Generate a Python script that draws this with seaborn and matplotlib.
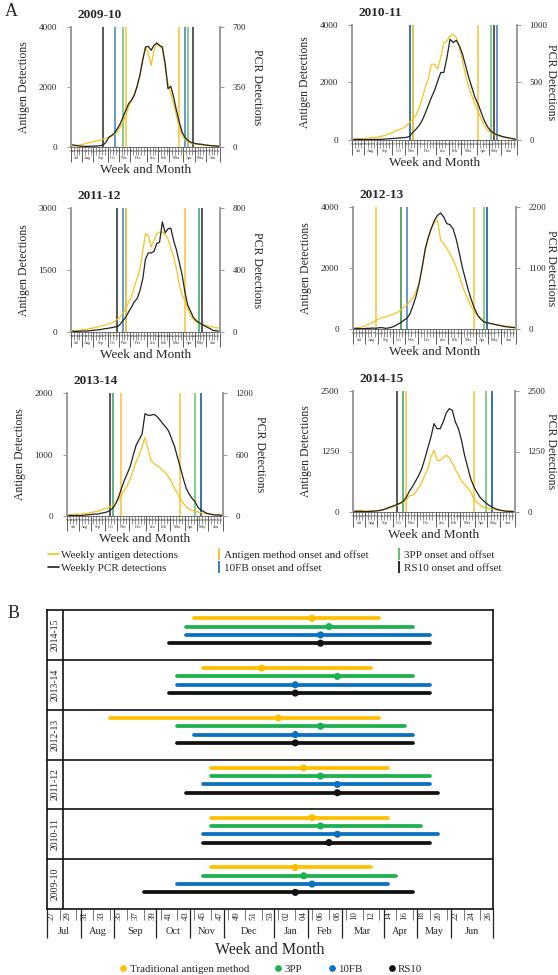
import matplotlib
matplotlib.use("Agg")
import matplotlib.pyplot as plt
import matplotlib.transforms as mtransforms
from matplotlib.lines import Line2D
import numpy as np
import pandas as pd
import seaborn as sns

# ---------------------------------------------------------------- data
week_labels = ["27", "28", "29", "30", "31", "32", "33", "34", "35", "36", "37", "38", "39",
               "40", "41", "42", "43", "44", "45", "46", "47", "48", "49", "50", "51", "52", "53",
               "01", "02", "03", "04", "05", "06", "07", "08", "09", "10", "11", "12", "13",
               "14", "15", "16", "17", "18", "19", "20", "21", "22", "23", "24", "25", "26"]
months = ["Jul", "Aug", "Sep", "Oct", "Nov", "Dec", "Jan", "Feb", "Mar", "Apr", "May", "Jun"]
month_weeks = [4, 4, 5, 4, 4, 6, 4, 4, 5, 4, 4, 5]

seasons = ["2009-10", "2010-11", "2011-12", "2012-13", "2013-14", "2014-15"]

antigen_0910 = [44, 33, 55, 78, 100, 122, 144, 167, 189, 211, 233, 267, 300, 311, 355, 422, 533, 667,
                833, 1055, 1333, 1555, 1778, 2000, 2389, 2944, 3333, 3111, 2722, 3222, 3444, 3355,
                3278, 2667, 2111, 1778, 1444, 1055, 667, 389, 244, 167, 133, 111, 100, 89, 78, 67,
                67, 55, 44, 44, 33]
pcr_0910 = [12, 10, 7, 5, 4, 4, 4, 5, 5, 6, 8, 12, 29, 58, 68, 82, 107, 136, 175, 214, 253, 272,
            301, 354, 418, 505, 583, 587, 564, 593, 607, 593, 583, 486, 340, 354, 292, 214, 146,
            88, 58, 39, 29, 23, 19, 17, 16, 12, 10, 8, 6, 6, 4]

antigen_1011 = [23, 35, 46, 46, 58, 69, 81, 92, 104, 127, 162, 197, 231, 289, 335, 381, 416, 497,
                613, 728, 844, 1110, 1422, 1826, 2115, 2636, 2636, 2462, 2867, 3387, 3445, 3618,
                3676, 3560, 3214, 2751, 2231, 1826, 1537, 1248, 1017, 728, 497, 347, 266, 208, 162,
                127, 104, 81, 58, 46, 35]
pcr_1011 = [5, 5, 5, 4, 4, 4, 5, 5, 5, 6, 8, 10, 12, 14, 16, 18, 20, 23, 32, 66, 92, 124, 168,
            230, 300, 370, 430, 510, 587, 587, 717, 876, 847, 867, 818, 746, 644, 543, 457, 370,
            312, 240, 168, 116, 81, 58, 46, 38, 29, 23, 17, 12, 6]

antigen_1112 = [16, 24, 32, 40, 56, 64, 81, 89, 105, 121, 137, 161, 177, 202, 218, 258, 306, 363,
                460, 564, 725, 846, 1088, 1290, 1531, 1934, 2377, 2337, 2055, 2216, 2377, 2418,
                2418, 2353, 2256, 2015, 1813, 1531, 1169, 887, 766, 580, 403, 306, 242, 209, 185,
                169, 153, 137, 121, 105, 97]
pcr_1112 = [6, 4, 4, 6, 6, 6, 8, 10, 12, 14, 15, 20, 22, 25, 28, 32, 35, 50, 75, 95, 130, 160,
            195, 215, 265, 340, 470, 510, 510, 520, 570, 580, 710, 640, 665, 670, 590, 530, 450,
            370, 260, 175, 135, 95, 75, 60, 50, 40, 30, 22, 10, 8, 6]

antigen_1213 = [22, 33, 55, 87, 131, 164, 218, 283, 338, 371, 392, 436, 458, 501, 545, 632, 719,
                785, 916, 1025, 1243, 1493, 2006, 2583, 2965, 3292, 3510, 3564, 2910, 2801, 2638,
                2474, 2289, 2038, 1766, 1439, 1166, 948, 730, 567, 436, 349, 262, 218, 185, 164,
                142, 120, 109, 98, 87, 76, 65]
pcr_1213 = [12, 12, 6, 6, 12, 12, 18, 12, 24, 24, 12, 18, 30, 54, 84, 114, 156, 192, 270, 420,
            594, 821, 1121, 1451, 1661, 1822, 1960, 2050, 2092, 2020, 1900, 1882, 1810, 1631,
            1391, 1121, 911, 701, 522, 372, 252, 180, 132, 114, 102, 90, 78, 66, 54, 42, 36, 30, 24]

antigen_1314 = [11, 22, 27, 32, 27, 38, 43, 54, 59, 70, 81, 97, 114, 124, 151, 173, 205, 259, 341,
                422, 503, 611, 746, 881, 989, 1124, 1276, 1097, 908, 854, 822, 789, 746, 703, 638,
                557, 449, 368, 286, 205, 151, 114, 92, 76, 65, 54, 43, 38, 32, 27, 22, 16, 11]
pcr_1314 = [6, 6, 3, 6, 3, 6, 10, 13, 16, 19, 19, 26, 32, 39, 52, 75, 117, 182, 269, 350, 415,
            486, 593, 691, 746, 798, 999, 983, 983, 992, 973, 940, 902, 869, 830, 756, 681, 577,
            473, 366, 269, 214, 172, 140, 84, 58, 42, 26, 19, 13, 10, 10, 6]

antigen_1415 = [21, 28, 34, 28, 21, 21, 28, 28, 34, 41, 55, 69, 90, 117, 145, 172, 200, 255, 337,
                344, 406, 503, 613, 758, 895, 1136, 1274, 1067, 1067, 1123, 1171, 1123, 1012, 875,
                771, 640, 572, 503, 413, 276, 207, 152, 103, 83, 69, 55, 48, 34, 28, 28, 21, 21, 14]
pcr_1415 = [14, 14, 14, 7, 7, 14, 14, 21, 28, 41, 62, 90, 110, 131, 158, 186, 227, 310, 434, 530,
            640, 758, 895, 1102, 1329, 1550, 1825, 1722, 1722, 1859, 2045, 2135, 2100, 1859, 1722,
            1481, 1171, 930, 689, 530, 413, 310, 241, 186, 138, 103, 69, 48, 34, 21, 14, 14, 7]

antigen_max = [4000, 4000, 3000, 4000, 2000, 2500]
pcr_max = [700, 1000, 800, 2200, 1200, 2500]

# onset / peak / offset, as epidemiological week numbers
antigen_onset = [46, 46, 46, 34, 45, 44]
antigen_peak = [3, 5, 4, 1, 52, 5]
antigen_offset = [12, 14, 14, 13, 12, 13]
pp3_onset = [45, 46, 46, 42, 42, 43]
pp3_peak = [4, 6, 6, 6, 8, 7]
pp3_offset = [15, 18, 19, 16, 17, 17]
fb10_onset = [42, 45, 45, 44, 42, 43]
fb10_peak = [5, 8, 8, 3, 3, 6]
fb10_offset = [14, 20, 19, 17, 19, 19]
rs10_onset = [38, 45, 43, 42, 41, 41]
rs10_peak = [3, 7, 8, 3, 3, 6]
rs10_offset = [17, 19, 20, 17, 19, 19]

antigen_series = [antigen_0910, antigen_1011, antigen_1112, antigen_1213, antigen_1314, antigen_1415]
pcr_series = [pcr_0910, pcr_1011, pcr_1112, pcr_1213, pcr_1314, pcr_1415]

# ---------------------------------------------------------------- style
sns.set_style("white")
plt.rcParams["font.family"] = ["Liberation Serif", "DejaVu Serif"]

W, H = 558, 975
C_ANT = "#F7C21F"
C_PCR = "#222222"
LINE_COLORS = {"RS10": "#2a2a2a", "10FB": "#3A7CC3", "3PP": "#62BF6C", "Antigen": "#F6C436"}
BAR_COLORS = ["#FFC000", "#1DB04E", "#0A70C0", "#111111"]
SPINE_GREY = "#9a9a9a"


def week_pos(w):
    return week_labels.index(f"{w:02d}")


def px_rect(l, t, r, b):
    return [l / W, 1 - b / H, (r - l) / W, (b - t) / H]


month_bounds = np.cumsum([0] + month_weeks) - 0.5
month_centers = (month_bounds[:-1] + month_bounds[1:]) / 2
x_pos = np.arange(len(week_labels))

fig = plt.figure(figsize=(W / 100, H / 100), dpi=100)

# ---------------------------------------------------------------- panel A
panel_rects = [(71, 27, 220, 147), (352, 25, 517, 140),
               (71, 208, 220, 332), (353, 207, 516, 329),
               (67, 393, 223, 516), (353, 391, 515, 512)]

for i, rect in enumerate(panel_rects):
    l, t, r, b = rect
    w_px, h_px = r - l, b - t
    ax = fig.add_axes(px_rect(*rect))
    ax2 = ax.twinx()

    onsets = [(rs10_onset, rs10_offset, "RS10"), (fb10_onset, fb10_offset, "10FB"),
              (pp3_onset, pp3_offset, "3PP"), (antigen_onset, antigen_offset, "Antigen")]
    for on, off, key in onsets:
        for w in (on[i], off[i]):
            ax.axvline(week_pos(w), color=LINE_COLORS[key], lw=1.1, zorder=1)

    sns.lineplot(x=x_pos, y=antigen_series[i], ax=ax, color=C_ANT, lw=0.9, zorder=3)
    sns.lineplot(x=x_pos, y=pcr_series[i], ax=ax2, color=C_PCR, lw=0.9, zorder=3)

    ax.set_xlim(-0.5, 52.5)
    ax.set_ylim(0, antigen_max[i])
    ax2.set_ylim(0, pcr_max[i])
    ax.set_yticks([0, antigen_max[i] / 2, antigen_max[i]])
    ax.set_yticklabels([f"{v:g}" for v in ax.get_yticks()])
    ax2.set_yticks([0, pcr_max[i] / 2, pcr_max[i]])
    ax2.set_yticklabels([f"{v:g}" for v in ax2.get_yticks()])

    for sp in ("top", "right"):
        ax.spines[sp].set_visible(False)
    for sp in ("top", "left", "bottom"):
        ax2.spines[sp].set_visible(False)
    ax.spines["left"].set_color(SPINE_GREY)
    ax.spines["left"].set_linewidth(1.4)
    ax2.spines["right"].set_color(SPINE_GREY)
    ax2.spines["right"].set_linewidth(1.4)
    ax.spines["bottom"].set_color("#555555")
    ax.spines["bottom"].set_linewidth(0.6)

    ax.tick_params(axis="y", length=3, width=0.8, color=SPINE_GREY, pad=7, labelsize=6.6, left=True)
    ax2.tick_params(axis="y", length=3, width=0.8, color=SPINE_GREY, pad=6, labelsize=6.4, right=True)

    ax.set_ylabel("Antigen Detections", fontsize=8.5)
    ax.yaxis.set_label_coords(-41 / w_px, 0.5)
    ax2.set_ylabel("PCR Detections", fontsize=8.5, rotation=270, va="center")
    label_x = min(r + 37, W - 7)
    ax2.yaxis.set_label_coords(1 + (label_x - r) / w_px, 0.5)

    # week boxes and month band under the axis
    ax.set_xticks(month_bounds)
    ax.set_xticklabels([])
    ax.set_xticks([p - 0.5 for p in range(1, 53) if (p - 0.5) not in month_bounds], minor=True)
    ax.tick_params(axis="x", which="major", bottom=True, length=11, width=0.6, color="#444444")
    ax.tick_params(axis="x", which="minor", bottom=True, length=5.5, width=0.4, color="#444444")

    sec_w = ax.secondary_xaxis(0)
    sec_w.set_xticks(x_pos, labels=week_labels)
    sec_w.tick_params(length=0, pad=0.6, labelsize=2.2, labelrotation=90)
    sec_m = ax.secondary_xaxis(-7.5 / h_px)
    sec_m.set_xticks(month_centers, labels=months)
    sec_m.tick_params(length=0, pad=0.8, labelsize=3)
    for s in (sec_w, sec_m):
        for sp in s.spines.values():
            sp.set_visible(False)

    ax.annotate("Week and Month", xy=(0.5, 0), xycoords="axes fraction",
                xytext=(0, -23 * 0.72), textcoords="offset points",
                ha="center", va="center", fontsize=9.5)
    ax.annotate(seasons[i], xy=(0, 1), xycoords="axes fraction",
                xytext=(4.5, 4), textcoords="offset points",
                ha="left", va="bottom", fontsize=9.5, fontweight="bold")

fig.text(5 / W, 1 - 12 / H, "A", fontsize=13, va="center", ha="left")

legend_kw = dict(loc="upper left", frameon=False, fontsize=8, borderaxespad=0, borderpad=0,
                 labelspacing=0.3, handletextpad=0.15)
fig.legend([Line2D([], [], color=C_ANT, lw=1.2), Line2D([], [], color=C_PCR, lw=1.2)],
           ["Weekly antigen detections", "Weekly PCR detections"],
           bbox_to_anchor=(48 / W, 1 - 550 / H), handlelength=1.0, **legend_kw)


def vbar(c):
    return Line2D([], [], ls="none", marker="|", markersize=9, mew=1.4, color=c)


fig.legend([vbar(LINE_COLORS["Antigen"]), vbar(LINE_COLORS["10FB"])],
           ["Antigen method onset and offset", "10FB onset and offset"],
           bbox_to_anchor=(216 / W, 1 - 550 / H), handlelength=0.6, **legend_kw)
fig.legend([vbar(LINE_COLORS["3PP"]), vbar(LINE_COLORS["RS10"])],
           ["3PP onset and offset", "RS10 onset and offset"],
           bbox_to_anchor=(396 / W, 1 - 550 / H), handlelength=0.6, **legend_kw)

# ---------------------------------------------------------------- panel B
method_names = ["Traditional antigen method", "3PP", "10FB", "RS10"]
method_data = [(antigen_onset, antigen_peak, antigen_offset),
               (pp3_onset, pp3_peak, pp3_offset),
               (fb10_onset, fb10_peak, fb10_offset),
               (rs10_onset, rs10_peak, rs10_offset)]

records = []
for s, season in enumerate(seasons):
    row = len(seasons) - 1 - s
    for k, (on, pk, off) in enumerate(method_data):
        records.append({"season": season, "method": method_names[k],
                        "y": row + (k + 1) / 6,
                        "start": week_pos(on[s]), "peak": week_pos(pk[s]), "end": week_pos(off[s])})
df_b = pd.DataFrame(records)

axb = fig.add_axes(px_rect(47, 610, 493, 909))
for k, name in enumerate(method_names):
    sub = df_b[df_b["method"] == name]
    lc = axb.hlines(sub["y"], sub["start"], sub["end"], color=BAR_COLORS[k], lw=2.7, zorder=2)
    lc.set_capstyle("round")
sns.scatterplot(data=df_b, x="peak", y="y", hue="method", hue_order=method_names,
                palette=BAR_COLORS, s=26, edgecolor="none", legend=False, ax=axb, zorder=3)

axb.set_xlim(-0.5, 52.5)
axb.set_ylim(6, 0)
axb.set_yticks([])
axb.set_xlabel("")
axb.set_ylabel("")
for r in range(1, 6):
    axb.axhline(r, color="#111111", lw=1.2)
axb.plot([0.035, 0.035], [0, 1], transform=axb.transAxes, color="#111111", lw=1.2)
for sp in axb.spines.values():
    sp.set_color("#111111")
    sp.set_linewidth(1.2)

blend = mtransforms.blended_transform_factory(axb.transAxes, axb.transData)
for s, season in enumerate(seasons):
    row = len(seasons) - 1 - s
    axb.text(0.0175, row + 0.5, season, transform=blend, rotation=90,
             ha="center", va="center", fontsize=7)

axb.set_xticks(month_bounds)
axb.set_xticklabels([])
axb.set_xticks(x_pos[1::2], minor=True)
axb.tick_params(axis="x", which="major", bottom=True, length=21, width=0.9, color="#222222")
axb.tick_params(axis="x", which="minor", bottom=True, length=8, width=0.5, color="#444444")

secb_w = axb.secondary_xaxis(0)
secb_w.set_xticks(x_pos[::2], labels=week_labels[::2])
secb_w.tick_params(length=0, pad=1.5, labelsize=6.3, labelrotation=90)
secb_m = axb.secondary_xaxis(-16 / 299)
secb_m.set_xticks(month_centers, labels=months)
secb_m.tick_params(length=0, pad=1.5, labelsize=7.5)
for s in (secb_w, secb_m):
    for sp in s.spines.values():
        sp.set_visible(False)

fig.text(270 / W, 1 - 950 / H, "Week and Month", fontsize=11.5, ha="center", va="center")
fig.text(8 / W, 1 - 613 / H, "B", fontsize=13, va="center", ha="left")

fig.legend([Line2D([], [], ls="none", marker="o", ms=3.8, color=c) for c in BAR_COLORS],
           method_names, ncol=4, loc="center", bbox_to_anchor=(270 / W, 1 - 969 / H),
           frameon=False, fontsize=7.8, handletextpad=0.1, columnspacing=2.2,
           handlelength=1.0, borderaxespad=0, borderpad=0)

fig.savefig("out.png", dpi=100)
